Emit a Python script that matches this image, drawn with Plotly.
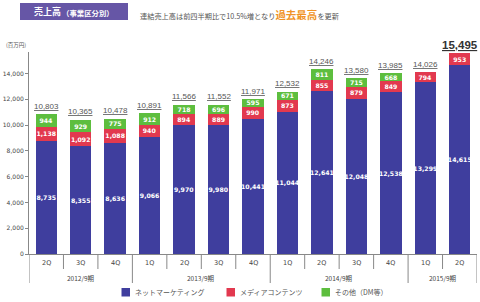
import plotly.graph_objects as go

quarters = ["2Q", "3Q", "4Q", "1Q", "2Q", "3Q", "4Q", "1Q", "2Q", "3Q", "4Q", "1Q", "2Q"]
years = ["2012/9期", "2013/9期", "2014/9期", "2015/9期"]
year_spans = [(0, 2), (3, 6), (7, 10), (11, 12)]
net_marketing = [8735, 8355, 8636, 9066, 9970, 9980, 10441, 11044, 12641, 12048, 12538, 13299, 14615]
media_contents = [1138, 1092, 1088, 940, 894, 889, 990, 873, 855, 879, 849, 794, 953]
others = [944, 929, 775, 912, 718, 696, 595, 671, 811, 715, 668, None, None]
totals = [10803, 10365, 10478, 10891, 11566, 11552, 11971, 12532, 14246, 13580, 13985, 14026, 15495]
series_names = ["ネットマーケティング", "メディアコンテンツ", "その他（DM等）"]
colors = ["#3F3E9E", "#E2394F", "#5DBE3E"]

FONT = "DejaVu Sans, Noto Sans CJK JP"
ARIAL = "Liberation Sans, Arial, sans-serif"
JP = "Noto Sans CJK JP, DejaVu Sans"
x = list(range(len(quarters)))

TOP, BOT, PH = 52, 48, 202

fig = go.Figure()
for vals, name, col in zip([net_marketing, media_contents, others], series_names, colors):
    fig.add_trace(go.Bar(
        x=x, y=[v if v is not None else 0 for v in vals], name=name,
        marker=dict(color=col, line=dict(width=0)),
        text=[f"{v:,}" if v is not None else "" for v in vals],
        textposition="inside", insidetextanchor="middle", textangle=0,
        textfont=dict(family=FONT, size=6.2, color="white", weight="bold"),
        width=0.62, showlegend=False, hoverinfo="skip",
    ))

annotations = []
shapes = []

def px(xp):
    return (xp - 29) / 448
def py(yp):
    return (254 - yp) / PH

# totals
for i, t in enumerate(totals):
    last = i == len(totals) - 1
    annotations.append(dict(
        x=i, y=t, xref="x", yref="y", text=f"<u>{t:,}</u>", showarrow=False,
        xanchor="center", yanchor="bottom", yshift=2 if not last else 1,
        font=dict(family=ARIAL, size=8 if not last else 11.5, color="#555" if not last else "#333",
                  weight="normal" if not last else "bold"),
    ))

# quarter labels
for i, q in enumerate(quarters):
    annotations.append(dict(x=i, y=py(262.5), xref="x", yref="paper", text=q, showarrow=False,
                            xanchor="center", yanchor="middle",
                            font=dict(family=FONT, size=6.5, color="#444")))
# year labels
for yl, (a, b) in zip(years, year_spans):
    annotations.append(dict(x=(a + b) / 2, y=py(277.5), xref="x", yref="paper", text=yl, showarrow=False,
                            xanchor="center", yanchor="middle",
                            font=dict(family=JP, size=6.5, color="#444")))

# dividers
group_bounds = [-0.5] + [b + 0.5 for (_, b) in year_spans]
for k in range(len(quarters) + 1):
    pos = k - 0.5
    long = pos in group_bounds
    shapes.append(dict(type="line", xref="x", yref="paper", x0=pos, x1=pos, y0=0,
                       y1=py(283) if long else py(269), line=dict(color="#888", width=1)))

# unit label
annotations.append(dict(x=px(16), y=py(45), xref="paper", yref="paper", text="(百万円)", showarrow=False,
                        xanchor="center", yanchor="middle",
                        font=dict(family=JP, size=5.5, color="#555")))

# header box
x0, x1, y0, y1 = px(20), px(128), py(20), py(3)
shapes.append(dict(type="rect", xref="paper", yref="paper", x0=x0, x1=x1, y0=y0, y1=y1,
                   fillcolor="#6656A6", line=dict(width=0)))
annotations.append(dict(x=px(32), y=py(11.5), xref="paper", yref="paper", xanchor="left", yanchor="middle",
                        text="<b>売上高</b>", showarrow=False,
                        font=dict(family=JP, size=9, color="#FFFFFF")))
annotations.append(dict(x=px(60), y=py(12), xref="paper", yref="paper", xanchor="left", yanchor="middle",
                        text="<b>（事業区分別）</b>", showarrow=False,
                        font=dict(family=JP, size=7.4, color="#FFFFFF")))
annotations.append(dict(x=px(138), y=py(14), xref="paper", yref="paper", xanchor="left", yanchor="middle",
                        text="連結売上高は前四半期比で10.5%増となり<span style='font-size:10.5px;color:#F09326'><b>過去最高</b></span>を更新",
                        showarrow=False, font=dict(family=JP, size=7.2, color="#555")))

# legend (manual)
legend_pos = [121.5, 226.5, 321.5]
for lx, name, col in zip(legend_pos, series_names, colors):
    shapes.append(dict(type="rect", xref="paper", yref="paper", x0=px(lx), x1=px(lx + 8.5),
                       y0=py(296.5), y1=py(288), fillcolor=col, line=dict(width=0)))
    annotations.append(dict(x=px(lx + 11), y=py(292.3), xref="paper", yref="paper",
                            xanchor="left", yanchor="middle",
                            text=name, showarrow=False, font=dict(family=JP, size=7, color="#555")))

fig.update_layout(
    barmode="stack", width=480, height=302,
    margin=dict(l=29, r=3, t=TOP, b=BOT, autoexpand=False),
    paper_bgcolor="white", plot_bgcolor="white",
    uniformtext=dict(minsize=6, mode="show"),
    xaxis=dict(range=[-0.5, 12.5], showticklabels=False, showgrid=False, zeroline=False,
               showline=True, linecolor="#888", linewidth=1, ticks=""),
    yaxis=dict(range=[0, PH / 0.0129], tickvals=list(range(0, 14001, 2000)),
               ticktext=[f"{v:,}" for v in range(0, 14001, 2000)],
               showgrid=False, zeroline=False, showline=True, linecolor="#888", linewidth=1,
               ticks="outside", ticklen=3, tickcolor="#888",
               tickfont=dict(family=FONT, size=6, color="#444")),
    annotations=annotations, shapes=shapes,
)
fig.write_html("out.html")
